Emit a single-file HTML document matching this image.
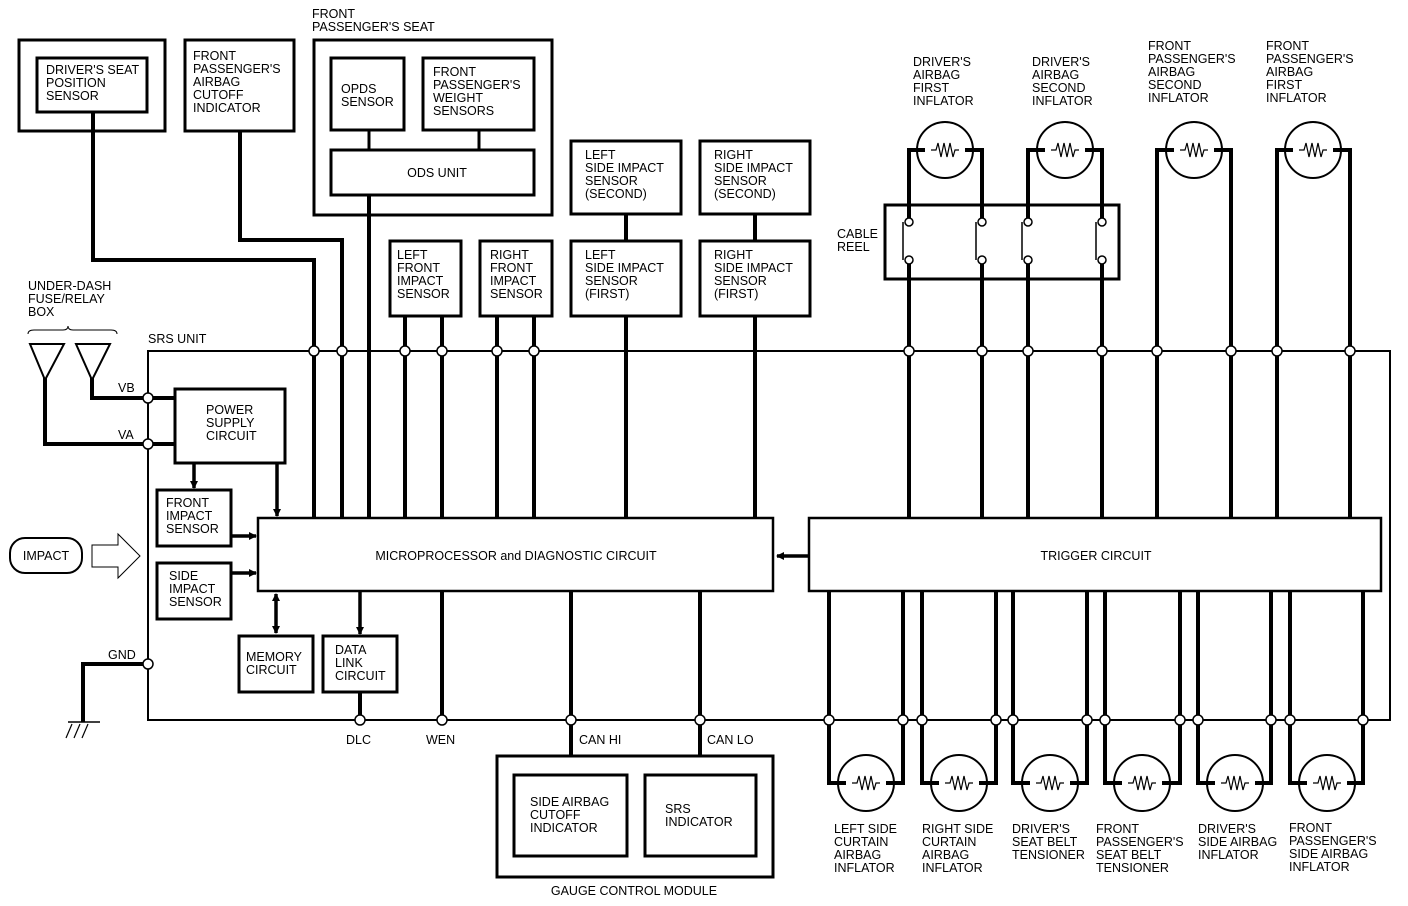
<!DOCTYPE html>
<html><head><meta charset="utf-8"><style>
html,body{margin:0;padding:0;background:#fff}
svg{display:block}
text{font-family:"Liberation Sans",Arial,sans-serif;font-size:12.5px;fill:#000}
</style></head><body>
<svg width="1408" height="906" viewBox="0 0 1408 906" xmlns="http://www.w3.org/2000/svg">
<defs>
<marker id="ah" markerWidth="8" markerHeight="8" refX="7" refY="4" orient="auto" markerUnits="userSpaceOnUse">
<path d="M0,0 L8,4 L0,8 z" fill="#000"/></marker>
<marker id="ahs" markerWidth="8" markerHeight="8" refX="1" refY="4" orient="auto" markerUnits="userSpaceOnUse">
<path d="M8,0 L0,4 L8,8 z" fill="#000"/></marker>
<g id="res"><path d="M-14,0 L-9,0 L-7,-7 L-4,7 L-1,-7 L2,7 L5,-7 L8,7 L10,0 L14,0" fill="none" stroke="#000" stroke-width="1.2"/></g>
</defs>
<g fill="none" stroke="#000">
<!-- SRS unit -->
<rect x="148" y="351" width="1242" height="369" stroke-width="2"/>
<!-- top left boxes -->
<rect x="19" y="40" width="146" height="91" stroke-width="3"/>
<rect x="37" y="58" width="110" height="54" stroke-width="3"/>
<rect x="185" y="40" width="109" height="91" stroke-width="3"/>
<rect x="314" y="40" width="238" height="175" stroke-width="3"/>
<rect x="331" y="58" width="73" height="72" stroke-width="3"/>
<rect x="423" y="58" width="111" height="72" stroke-width="3"/>
<rect x="331" y="150" width="203" height="45" stroke-width="3"/>
<line x1="369" y1="130" x2="369" y2="150" stroke-width="3"/>
<line x1="479" y1="130" x2="479" y2="150" stroke-width="3"/>
<!-- sensors -->
<rect x="571" y="141" width="110" height="73" stroke-width="3"/>
<rect x="700" y="141" width="110" height="73" stroke-width="3"/>
<rect x="390" y="241" width="71" height="75" stroke-width="3"/>
<rect x="480" y="241" width="72" height="75" stroke-width="3"/>
<rect x="571" y="241" width="110" height="75" stroke-width="3"/>
<rect x="700" y="241" width="110" height="75" stroke-width="3"/>
<!-- wires to micro -->
<g stroke-width="4">
<polyline points="93,112 93,260 314,260 314,518"/>
<polyline points="240,131 240,240 342,240 342,518"/>
<line x1="369" y1="195" x2="369" y2="518"/>
<line x1="405" y1="316" x2="405" y2="518"/>
<line x1="442" y1="316" x2="442" y2="518"/>
<line x1="497" y1="316" x2="497" y2="518"/>
<line x1="534" y1="316" x2="534" y2="518"/>
<line x1="626" y1="214" x2="626" y2="241"/>
<line x1="626" y1="316" x2="626" y2="518"/>
<line x1="755" y1="214" x2="755" y2="241"/>
<line x1="755" y1="316" x2="755" y2="518"/>
</g>
<!-- micro & trigger -->
<rect x="258" y="518" width="515" height="73" stroke-width="2.5"/>
<rect x="809" y="518" width="572" height="73" stroke-width="2.5"/>
<line x1="809" y1="556" x2="777" y2="556" stroke-width="3.5" marker-end="url(#ah)"/>
<!-- power supply -->
<rect x="175" y="389" width="110" height="74" stroke-width="3"/>
<rect x="157" y="490" width="74" height="56" stroke-width="3"/>
<rect x="157" y="563" width="74" height="56" stroke-width="3"/>
<rect x="239" y="636" width="74" height="56" stroke-width="3"/>
<rect x="323" y="636" width="74" height="56" stroke-width="3"/>
<g stroke-width="3.5">
<line x1="194" y1="463" x2="194" y2="488" marker-end="url(#ah)"/>
<line x1="277" y1="463" x2="277" y2="516" marker-end="url(#ah)"/>
<line x1="231" y1="536" x2="256" y2="536" marker-end="url(#ah)"/>
<line x1="231" y1="573" x2="256" y2="573" marker-end="url(#ah)"/>
<line x1="276" y1="594" x2="276" y2="633" marker-end="url(#ah)" marker-start="url(#ahs)"/>
<line x1="360" y1="591" x2="360" y2="634" marker-end="url(#ah)"/>
</g>
<g stroke-width="4">
<line x1="360" y1="692" x2="360" y2="720"/>
<line x1="442" y1="591" x2="442" y2="720"/>
<line x1="571" y1="591" x2="571" y2="756"/>
<line x1="700" y1="591" x2="700" y2="756"/>
<!-- VB VA -->
<polyline points="92,378 92,398 175,398"/>
<polyline points="45,378 45,444 175,444"/>
<polyline points="148,664 83,664 83,722"/>
</g>
<!-- triangles -->
<polygon points="30,344 64,344 45,380" stroke-width="2"/>
<polygon points="76,344 110,344 92,380" stroke-width="2"/>
<path d="M28,334 Q28,330 34,330 L63,330 Q68,330 68,326 Q68,330 73,330 L111,330 Q117,330 117,334" stroke-width="1"/>
<!-- ground -->
<line x1="68" y1="722" x2="100" y2="722" stroke-width="1.5"/>
<line x1="72" y1="724" x2="66" y2="738" stroke-width="1.2"/>
<line x1="80" y1="724" x2="74" y2="738" stroke-width="1.2"/>
<line x1="88" y1="724" x2="82" y2="738" stroke-width="1.2"/>
<!-- impact -->
<rect x="10" y="538" width="72" height="35" rx="15" stroke-width="2"/>
<polygon points="92,545 118,545 118,534 140,556 118,578 118,567 92,567" stroke-width="1"/>
<!-- gauge -->
<rect x="497" y="756" width="276" height="121" stroke-width="3"/>
<rect x="514" y="775" width="113" height="81" stroke-width="3"/>
<rect x="645" y="775" width="111" height="81" stroke-width="3"/>
<!-- cable reel -->
<rect x="885" y="205" width="234" height="74" stroke-width="3"/>
<!-- top inflators -->
<g stroke-width="4">
<polyline points="909,518 909,260"/><polyline points="909,222 909,150 925,150"/>
<polyline points="982,518 982,260"/><polyline points="982,222 982,150 965,150"/>
<polyline points="1028,518 1028,260"/><polyline points="1028,222 1028,150 1045,150"/>
<polyline points="1102,518 1102,260"/><polyline points="1102,222 1102,150 1085,150"/>
<polyline points="1157,518 1157,150 1174,150"/><polyline points="1231,518 1231,150 1214,150"/>
<polyline points="1277,518 1277,150 1293,150"/><polyline points="1350,518 1350,150 1333,150"/>
</g>
<g stroke-width="1.5">
<line x1="903" y1="222" x2="903" y2="260"/><line x1="976" y1="222" x2="976" y2="260"/>
<line x1="1022" y1="222" x2="1022" y2="260"/><line x1="1096" y1="222" x2="1096" y2="260"/>
</g>
<g fill="#fff" stroke-width="1.5">
<circle cx="909" cy="222" r="4"/><circle cx="909" cy="260" r="4"/>
<circle cx="982" cy="222" r="4"/><circle cx="982" cy="260" r="4"/>
<circle cx="1028" cy="222" r="4"/><circle cx="1028" cy="260" r="4"/>
<circle cx="1102" cy="222" r="4"/><circle cx="1102" cy="260" r="4"/>
</g>
<g stroke-width="2">
<circle cx="945" cy="150" r="28"/><circle cx="1065" cy="150" r="28"/>
<circle cx="1194" cy="150" r="28"/><circle cx="1313" cy="150" r="28"/>
</g>
<use href="#res" x="945" y="150"/><use href="#res" x="1065" y="150"/>
<use href="#res" x="1194" y="150"/><use href="#res" x="1313" y="150"/>
<!-- bottom inflators -->
<g stroke-width="4">
<polyline points="829,591 829,783 846,783"/><polyline points="903,591 903,783 886,783"/>
<polyline points="922,591 922,783 939,783"/><polyline points="996,591 996,783 979,783"/>
<polyline points="1013,591 1013,783 1030,783"/><polyline points="1087,591 1087,783 1070,783"/>
<polyline points="1105,591 1105,783 1122,783"/><polyline points="1180,591 1180,783 1162,783"/>
<polyline points="1198,591 1198,783 1215,783"/><polyline points="1271,591 1271,783 1255,783"/>
<polyline points="1290,591 1290,783 1307,783"/><polyline points="1363,591 1363,783 1347,783"/>
</g>
<g stroke-width="2">
<circle cx="866" cy="783" r="28"/><circle cx="959" cy="783" r="28"/><circle cx="1050" cy="783" r="28"/>
<circle cx="1142" cy="783" r="28"/><circle cx="1235" cy="783" r="28"/><circle cx="1327" cy="783" r="28"/>
</g>
<use href="#res" x="866" y="783"/><use href="#res" x="959" y="783"/><use href="#res" x="1050" y="783"/>
<use href="#res" x="1142" y="783"/><use href="#res" x="1235" y="783"/><use href="#res" x="1327" y="783"/>
<!-- nodes -->
<g fill="#fff" stroke-width="1.5">
<circle cx="314" cy="351" r="5"/><circle cx="342" cy="351" r="5"/><circle cx="405" cy="351" r="5"/>
<circle cx="442" cy="351" r="5"/><circle cx="497" cy="351" r="5"/><circle cx="534" cy="351" r="5"/>
<circle cx="909" cy="351" r="5"/><circle cx="982" cy="351" r="5"/><circle cx="1028" cy="351" r="5"/>
<circle cx="1102" cy="351" r="5"/><circle cx="1157" cy="351" r="5"/><circle cx="1231" cy="351" r="5"/>
<circle cx="1277" cy="351" r="5"/><circle cx="1350" cy="351" r="5"/>
<circle cx="148" cy="398" r="5"/><circle cx="148" cy="444" r="5"/><circle cx="148" cy="664" r="5"/>
<circle cx="360" cy="720" r="5"/><circle cx="442" cy="720" r="5"/><circle cx="571" cy="720" r="5"/>
<circle cx="700" cy="720" r="5"/>
<circle cx="829" cy="720" r="5"/><circle cx="903" cy="720" r="5"/><circle cx="922" cy="720" r="5"/>
<circle cx="996" cy="720" r="5"/><circle cx="1013" cy="720" r="5"/><circle cx="1087" cy="720" r="5"/>
<circle cx="1105" cy="720" r="5"/><circle cx="1180" cy="720" r="5"/><circle cx="1198" cy="720" r="5"/>
<circle cx="1271" cy="720" r="5"/><circle cx="1290" cy="720" r="5"/><circle cx="1363" cy="720" r="5"/>
</g>
</g>
<!-- TEXT -->
<g>
<text x="312" y="18">FRONT</text><text x="312" y="31">PASSENGER'S SEAT</text>
<text x="46" y="74">DRIVER'S SEAT</text><text x="46" y="87">POSITION</text><text x="46" y="100">SENSOR</text>
<text x="193" y="60">FRONT</text><text x="193" y="73">PASSENGER'S</text><text x="193" y="86">AIRBAG</text><text x="193" y="99">CUTOFF</text><text x="193" y="112">INDICATOR</text>
<text x="341" y="93">OPDS</text><text x="341" y="106">SENSOR</text>
<text x="433" y="76">FRONT</text><text x="433" y="89">PASSENGER'S</text><text x="433" y="102">WEIGHT</text><text x="433" y="115">SENSORS</text>
<text x="437" y="177" text-anchor="middle">ODS UNIT</text>
<text x="397" y="259">LEFT</text><text x="397" y="272">FRONT</text><text x="397" y="285">IMPACT</text><text x="397" y="298">SENSOR</text>
<text x="490" y="259">RIGHT</text><text x="490" y="272">FRONT</text><text x="490" y="285">IMPACT</text><text x="490" y="298">SENSOR</text>
<text x="585" y="159">LEFT</text><text x="585" y="172">SIDE IMPACT</text><text x="585" y="185">SENSOR</text><text x="585" y="198">(SECOND)</text>
<text x="714" y="159">RIGHT</text><text x="714" y="172">SIDE IMPACT</text><text x="714" y="185">SENSOR</text><text x="714" y="198">(SECOND)</text>
<text x="585" y="259">LEFT</text><text x="585" y="272">SIDE IMPACT</text><text x="585" y="285">SENSOR</text><text x="585" y="298">(FIRST)</text>
<text x="714" y="259">RIGHT</text><text x="714" y="272">SIDE IMPACT</text><text x="714" y="285">SENSOR</text><text x="714" y="298">(FIRST)</text>
<text x="913" y="66">DRIVER'S</text><text x="913" y="79">AIRBAG</text><text x="913" y="92">FIRST</text><text x="913" y="105">INFLATOR</text>
<text x="1032" y="66">DRIVER'S</text><text x="1032" y="79">AIRBAG</text><text x="1032" y="92">SECOND</text><text x="1032" y="105">INFLATOR</text>
<text x="1148" y="50">FRONT</text><text x="1148" y="63">PASSENGER'S</text><text x="1148" y="76">AIRBAG</text><text x="1148" y="89">SECOND</text><text x="1148" y="102">INFLATOR</text>
<text x="1266" y="50">FRONT</text><text x="1266" y="63">PASSENGER'S</text><text x="1266" y="76">AIRBAG</text><text x="1266" y="89">FIRST</text><text x="1266" y="102">INFLATOR</text>
<text x="837" y="238">CABLE</text><text x="837" y="251">REEL</text>
<text x="28" y="290">UNDER-DASH</text><text x="28" y="303">FUSE/RELAY</text><text x="28" y="316">BOX</text>
<text x="148" y="343">SRS UNIT</text>
<text x="118" y="392">VB</text><text x="118" y="439">VA</text><text x="108" y="659">GND</text>
<text x="206" y="414">POWER</text><text x="206" y="427">SUPPLY</text><text x="206" y="440">CIRCUIT</text>
<text x="166" y="507">FRONT</text><text x="166" y="520">IMPACT</text><text x="166" y="533">SENSOR</text>
<text x="169" y="580">SIDE</text><text x="169" y="593">IMPACT</text><text x="169" y="606">SENSOR</text>
<text x="46" y="560" text-anchor="middle">IMPACT</text>
<text x="516" y="560" text-anchor="middle">MICROPROCESSOR and DIAGNOSTIC CIRCUIT</text>
<text x="1096" y="560" text-anchor="middle">TRIGGER CIRCUIT</text>
<text x="246" y="661">MEMORY</text><text x="246" y="674">CIRCUIT</text>
<text x="335" y="654">DATA</text><text x="335" y="667">LINK</text><text x="335" y="680">CIRCUIT</text>
<text x="346" y="744">DLC</text><text x="426" y="744">WEN</text><text x="579" y="744">CAN HI</text><text x="707" y="744">CAN LO</text>
<text x="530" y="806">SIDE AIRBAG</text><text x="530" y="819">CUTOFF</text><text x="530" y="832">INDICATOR</text>
<text x="665" y="813">SRS</text><text x="665" y="826">INDICATOR</text>
<text x="634" y="895" text-anchor="middle">GAUGE CONTROL MODULE</text>
<text x="834" y="833">LEFT SIDE</text><text x="834" y="846">CURTAIN</text><text x="834" y="859">AIRBAG</text><text x="834" y="872">INFLATOR</text>
<text x="922" y="833">RIGHT SIDE</text><text x="922" y="846">CURTAIN</text><text x="922" y="859">AIRBAG</text><text x="922" y="872">INFLATOR</text>
<text x="1012" y="833">DRIVER'S</text><text x="1012" y="846">SEAT BELT</text><text x="1012" y="859">TENSIONER</text>
<text x="1096" y="833">FRONT</text><text x="1096" y="846">PASSENGER'S</text><text x="1096" y="859">SEAT BELT</text><text x="1096" y="872">TENSIONER</text>
<text x="1198" y="833">DRIVER'S</text><text x="1198" y="846">SIDE AIRBAG</text><text x="1198" y="859">INFLATOR</text>
<text x="1289" y="832">FRONT</text><text x="1289" y="845">PASSENGER'S</text><text x="1289" y="858">SIDE AIRBAG</text><text x="1289" y="871">INFLATOR</text>
</g>
</svg>
</body></html>
